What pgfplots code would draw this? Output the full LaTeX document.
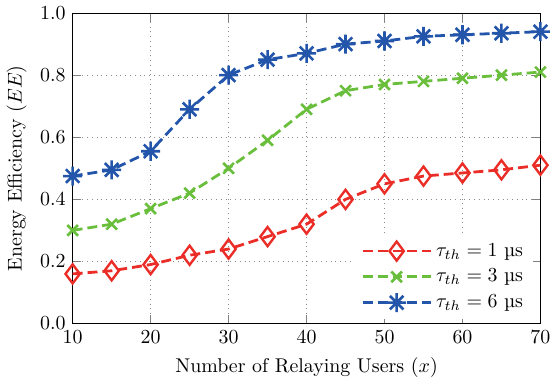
\documentclass[border=0pt]{standalone}
\usepackage{fontspec}
\usepackage{pgfplots}
\pgfplotsset{compat=1.18}
\definecolor{cred}{RGB}{235,45,40}
\definecolor{cgreen}{RGB}{105,190,60}
\definecolor{cblue}{RGB}{35,85,170}
\pgfdeclareplotmark{ast8}{%
  \pgfpathmoveto{\pgfqpoint{-\pgfplotmarksize}{0pt}}\pgfpathlineto{\pgfqpoint{\pgfplotmarksize}{0pt}}%
  \pgfpathmoveto{\pgfqpoint{0pt}{-\pgfplotmarksize}}\pgfpathlineto{\pgfqpoint{0pt}{\pgfplotmarksize}}%
  \pgfpathmoveto{\pgfqpoint{-0.707\pgfplotmarksize}{-0.707\pgfplotmarksize}}\pgfpathlineto{\pgfqpoint{0.707\pgfplotmarksize}{0.707\pgfplotmarksize}}%
  \pgfpathmoveto{\pgfqpoint{-0.707\pgfplotmarksize}{0.707\pgfplotmarksize}}\pgfpathlineto{\pgfqpoint{0.707\pgfplotmarksize}{-0.707\pgfplotmarksize}}%
  \pgfusepathqstroke}
\begin{document}
\begin{tikzpicture}
\begin{axis}[
  width=280pt, height=201pt,
  xmin=10, xmax=70, ymin=0, ymax=1,
  xtick={10,20,...,70},
  ytick={0,0.2,0.4,0.6,0.8,1.0},
  yticklabel style={/pgf/number format/fixed,/pgf/number format/fixed zerofill,/pgf/number format/precision=1},
  tick align=inside,
  grid=major,
  major grid style={dotted, gray!90, line width=0.5pt},
  xlabel={Number of Relaying Users ($x$)},
  ylabel={Energy Efficiency ($EE$)},
  legend style={at={(0.985,0.015)}, anchor=south east, draw=none, fill=white, row sep=1pt},
  legend cell align=left,
  legend image code/.code={\draw[mark repeat=2,mark phase=2] plot coordinates {(0cm,0cm)(0.6cm,0cm)(1.2cm,0cm)};},
  every axis plot/.append style={line width=1.4pt, dash pattern=on 5pt off 2.5pt},
]
\addplot[cred, mark=diamond, mark size=4.8pt, mark options={solid, line width=1.2pt}] coordinates {
(10,0.16)(15,0.17)(20,0.19)(25,0.22)(30,0.24)(35,0.28)(40,0.32)(45,0.40)(50,0.45)(55,0.475)(60,0.485)(65,0.495)(70,0.51)};
\addlegendentry{$\tau_{th}=1$ µs}
\addplot[cgreen, mark=x, mark size=3.8pt, mark options={solid, line width=1.3pt}] coordinates {
(10,0.30)(15,0.32)(20,0.37)(25,0.42)(30,0.50)(35,0.59)(40,0.69)(45,0.75)(50,0.77)(55,0.78)(60,0.79)(65,0.80)(70,0.81)};
\addlegendentry{$\tau_{th}=3$ µs}
\addplot[cblue, mark=ast8, mark size=4.8pt, mark options={solid, line width=1.3pt}] coordinates {
(10,0.475)(15,0.495)(20,0.555)(25,0.69)(30,0.80)(35,0.85)(40,0.87)(45,0.90)(50,0.91)(55,0.925)(60,0.93)(65,0.935)(70,0.94)};
\addlegendentry{$\tau_{th}=6$ µs}
\end{axis}
\end{tikzpicture}
\end{document}
